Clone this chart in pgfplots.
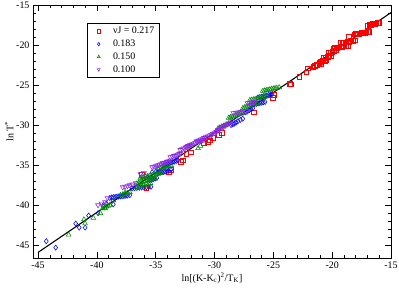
\documentclass[border=0pt]{standalone}
\usepackage{pgfplots}
\usepackage{pgfplotstable}
\pgfplotsset{compat=1.18}
\usepackage{fontspec}
\setmainfont{Liberation Serif}
\definecolor{gred}{RGB}{255,0,0}
\definecolor{gblue}{RGB}{0,0,255}
\definecolor{ggreen}{RGB}{0,139,0}
\definecolor{gviolet}{RGB}{138,43,226}

\pgfplotstableread{
x y
-16.95 -17.55
-16.85 -17.5
-16.75 -17.45
-16.65 -17.42
-16.55 -17.38
-16.45 -17.35
-16.35 -17.32
-16.25 -17.28
-16.15 -17.25
-16.05 -17.2
-18.1 -18.65
-18.0 -18.62
-17.9 -18.6
-17.8 -18.58
-17.7 -18.55
-17.6 -18.52
-17.5 -18.5
-17.4 -18.48
-17.3 -18.45
-17.2 -18.42
-17.1 -18.4
-17.0 -18.35
-16.9 -18.3
-18.6 -19.0
-19.3 -19.75
-19.15 -19.72
-19.0 -19.7
-18.85 -19.65
-18.7 -19.6
-18.55 -19.55
-18.4 -19.5
-18.25 -19.45
-18.1 -19.4
-19.9 -20.4
-19.75 -20.35
-19.6 -20.3
-19.45 -20.28
-19.3 -20.25
-19.15 -20.2
-19.0 -20.15
-18.85 -20.1
-18.7 -20.05
-20.3 -21.0
-20.15 -20.92
-20.0 -20.85
-19.85 -20.75
-19.7 -20.65
-20.7 -21.6
-20.55 -21.52
-20.4 -21.45
-20.25 -21.38
-20.1 -21.3
-21.1 -22.2
-20.95 -22.1
-20.8 -22.0
-20.65 -21.95
-20.5 -21.9
-21.6 -22.7
-21.45 -22.6
-21.3 -22.5
-21.1 -22.4
-20.95 -22.3
-22.2 -23.4
-22.1 -22.9
-22.8 -24.0
-23.5 -24.9
-23.6 -24.8
-24.97 -26.25
-25.05 -26.6
-26.67 -28.4
-29.65 -31.25
-29.4 -31.0
-30.1 -31.6
-30.6 -32.1
-30.9 -32.25
-30.4 -31.9
-32.0 -33.4
-32.4 -33.6
-32.9 -34.6
-32.7 -34.4
-33.75 -35.6
-33.9 -35.9
-36.2 -36.2
-35.8 -37.8
}\tabA

\pgfplotstableread{
x y
-44.3 -44.5
-43.5 -45.3
-41.8 -42.3
-41.5 -42.8
-41.0 -42.8
-40.7 -41.3
-39.9 -41.0
-39.5 -40.1
-39.2 -39.8
-38.6 -39.9
-38.9 -39.1
-38.75 -39.05
-38.6 -39.0
-38.45 -38.98
-38.3 -38.95
-38.15 -38.92
-38.0 -38.9
-37.85 -38.88
-37.7 -38.85
-37.55 -38.82
-37.4 -38.8
-37.2 -38.75
-37.0 -37.9
-36.8 -37.88
-36.6 -37.85
-36.4 -37.82
-36.2 -37.8
-36.0 -37.78
-35.8 -37.75
-35.6 -37.72
-35.4 -37.7
-35.5 -36.9
-35.35 -36.82
-35.2 -36.75
-35.05 -36.68
-34.9 -36.6
-35.7 -36.6
-35.3 -35.9
-35.0 -35.85
-34.8 -35.9
-34.65 -35.88
-34.5 -35.85
-34.35 -35.82
-34.2 -35.8
-34.05 -35.75
-33.9 -35.7
-33.7 -35.6
-34.3 -35.0
-34.15 -34.92
-34.0 -34.85
-33.85 -34.78
-33.7 -34.7
-33.55 -34.62
-33.4 -34.55
-33.25 -34.48
-33.1 -34.4
-28.6 -30.0
-28.45 -29.9
-28.3 -29.8
-28.15 -29.65
-28.0 -29.5
-27.8 -29.35
-27.6 -29.2
-27.35 -28.4
-27.2 -28.28
-27.05 -28.15
-26.9 -28.02
-26.75 -27.9
-26.9 -27.5
-26.75 -27.45
-26.6 -27.4
-26.45 -27.35
-26.3 -27.3
-26.15 -27.25
-26.0 -27.2
-25.85 -27.15
-25.7 -27.1
-26.3 -26.55
-26.15 -26.5
-26.0 -26.45
-25.85 -26.4
-25.7 -26.35
-25.55 -26.3
-25.4 -26.25
-25.25 -26.18
-25.1 -26.1
}\tabB

\pgfplotstableread{
x y
-42.4 -43.7
-41.1 -41.8
-41.0 -42.3
-40.3 -41.6
-39.7 -41.0
-39.3 -40.4
-38.6 -39.4
-39.5 -40.4
-39.35 -40.3
-39.2 -40.2
-39.05 -40.1
-38.9 -40.0
-38.0 -38.75
-37.8 -38.68
-37.6 -38.6
-37.4 -38.5
-37.2 -38.4
-37.6 -38.4
-36.6 -37.75
-36.4 -37.68
-36.2 -37.6
-36.0 -37.5
-35.8 -37.4
-35.6 -37.32
-35.45 -37.25
-36.6 -37.3
-36.45 -37.22
-36.3 -37.15
-36.15 -37.08
-36.0 -37.0
-35.85 -36.95
-35.7 -36.9
-35.55 -36.82
-35.4 -36.75
-35.25 -36.68
-35.1 -36.6
-36.3 -36.6
-36.15 -36.55
-36.0 -36.5
-35.85 -36.45
-35.7 -36.4
-35.55 -36.35
-35.4 -36.3
-35.25 -36.25
-35.1 -36.2
-34.95 -36.15
-34.8 -36.1
-34.65 -36.05
-34.5 -36.0
-34.8 -35.4
-34.65 -35.35
-34.5 -35.3
-34.35 -35.25
-34.2 -35.2
-34.05 -35.15
-33.9 -35.1
-33.7 -35.0
-31.4 -32.9
-31.2 -32.6
-29.7 -30.4
-29.55 -30.3
-29.4 -30.2
-29.25 -30.1
-29.1 -30.0
-28.95 -29.9
-28.8 -29.8
-28.8 -29.1
-28.65 -29.02
-28.5 -28.95
-28.35 -28.88
-28.2 -28.8
-28.05 -28.72
-27.9 -28.65
-27.75 -28.58
-27.6 -28.5
-27.6 -27.9
-27.45 -27.8
-27.3 -27.7
-27.15 -27.62
-27.0 -27.55
-26.85 -27.48
-26.7 -27.4
-26.55 -27.32
-26.4 -27.25
-27.0 -26.9
-26.85 -26.85
-26.7 -26.8
-26.55 -26.75
-26.4 -26.7
-26.25 -26.65
-26.1 -26.6
-25.95 -26.55
-25.8 -26.5
-25.65 -26.45
-25.5 -26.4
-25.9 -25.75
-25.75 -25.7
-25.6 -25.65
-25.45 -25.6
-25.3 -25.55
-25.15 -25.5
-25.0 -25.45
-24.85 -25.4
-24.7 -25.35
-24.5 -25.3
}\tabC

\pgfplotstableread{
x y
-39.9 -40.0
-39.6 -39.8
-39.3 -39.6
-39.1 -39.1
-37.8 -37.75
-37.6 -37.68
-37.4 -37.6
-37.2 -37.5
-37.0 -37.4
-36.7 -37.25
-36.3 -36.1
-36.0 -36.0
-35.3 -35.25
-35.15 -35.18
-35.0 -35.1
-34.85 -35.02
-34.7 -34.95
-34.55 -34.85
-34.4 -34.75
-34.35 -34.75
-34.2 -34.68
-34.05 -34.6
-33.9 -34.5
-33.75 -34.4
-33.75 -34.0
-33.6 -33.92
-33.45 -33.85
-33.3 -33.78
-33.15 -33.7
-33.0 -33.6
-32.9 -33.5
-32.9 -33.1
-32.75 -33.0
-32.6 -32.9
-32.45 -32.8
-32.3 -32.7
-32.15 -32.6
-32.0 -32.5
-32.4 -32.7
-32.25 -32.6
-32.1 -32.5
-31.95 -32.4
-31.8 -32.3
-31.65 -32.2
-31.5 -32.1
-31.35 -32.02
-31.2 -31.95
-31.05 -31.9
-30.9 -31.85
-31.5 -32.0
-31.35 -31.9
-31.2 -31.8
-31.05 -31.7
-30.9 -31.6
-30.75 -31.5
-30.6 -31.4
-30.45 -31.3
-30.3 -31.2
-30.15 -31.1
-30.0 -31.0
-29.85 -30.85
-29.7 -30.7
-29.7 -30.6
-29.55 -30.48
-29.4 -30.35
-29.25 -30.22
-29.1 -30.1
-28.95 -29.95
-28.8 -29.8
-28.65 -29.65
-28.5 -29.5
-28.4 -28.5
-28.2 -28.45
-28.0 -28.4
-27.8 -28.35
-27.6 -28.3
-27.4 -28.25
-27.2 -28.2
-27.2 -27.25
-27.05 -27.22
-26.9 -27.2
-26.75 -27.15
-26.6 -27.1
}\tabD

\begin{document}
\begin{tikzpicture}[font=\fontsize{10}{12}\selectfont]
\begin{axis}[
  scale only axis,
  width=358bp, height=253bp,
  xmin=-45.43, xmax=-15,
  ymin=-46.6, ymax=-15,
  xtick={-45,-40,-35,-30,-25,-20,-15},
  xticklabels={-45,-40,-35,-30,-25,-20,-15},
  ytick={-45,-40,-35,-30,-25,-20,-15},
  yticklabels={-45,-40,-35,-30,-25,-20,-15},
  minor x tick num=4, minor y tick num=4,
  tick align=inside,
  major tick length=6bp, minor tick length=3bp,
  axis line style={line width=0.8bp},
  every tick/.style={black, line width=0.6bp},
  xlabel={ln[(K-K\textsubscript{c})\textsuperscript{2}/T\textsubscript{K}]},
  ylabel={ln T\textsuperscript{*}},
  xlabel style={yshift=2bp},
  ylabel style={yshift=-4bp},
  tick label style={font=\fontsize{10}{12}\selectfont},
  legend style={at={(0.151,0.929)}, anchor=north west, draw=black, line width=0.8bp,
    font=\fontsize{10}{11}\selectfont, inner xsep=3bp, inner ysep=2bp, row sep=0.6bp},
  legend cell align=left,
  legend image code/.code={\draw[#1, mark size=1.7bp] plot coordinates {(8bp,0bp)}; \path (0bp,0bp) (20bp,0bp);},
]
\addplot[only marks, mark=square, mark size=2.4bp, gred, line width=0.55bp] table {\tabA};
\addlegendentry{νJ = 0.217}
\addplot[only marks, mark=diamond, mark size=2.6bp, gblue, line width=0.55bp] table {\tabB};
\addlegendentry{0.183}
\addplot[only marks, mark=triangle, mark size=2.8bp, ggreen, line width=0.55bp] table {\tabC};
\addlegendentry{0.150}
\addplot[only marks, mark=triangle, mark options={rotate=180}, mark size=2.8bp, gviolet, line width=0.55bp] table {\tabD};
\addlegendentry{0.100}
\addplot[black, line width=1.1bp, forget plot] coordinates {(-45,-45.9) (-15,-15.95)};
\end{axis}
\pgfresetboundingbox
\path (current axis.south west) ++(-33bp,-32bp) coordinate (bl);
\path (current axis.north east) ++(8bp,5bp) coordinate (tr);
\path[use as bounding box] (bl) rectangle (tr);
\end{tikzpicture}
\end{document}
